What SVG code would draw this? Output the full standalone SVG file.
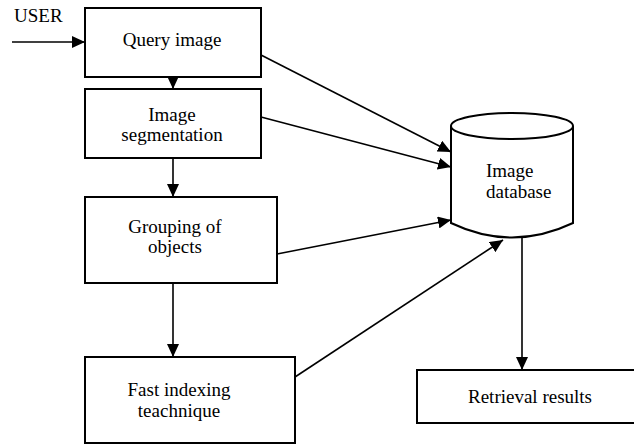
<svg xmlns="http://www.w3.org/2000/svg" width="634" height="445" viewBox="0 0 634 445">
<defs>
<style>
.box{fill:#fff;stroke:#000;stroke-width:2}
text{font-family:'Liberation Serif',serif;font-size:19px;fill:#000}
.c{text-anchor:middle}
.ln{stroke:#000;stroke-width:1.6;fill:none;marker-end:url(#ah)}
</style>
<marker id="ah" markerUnits="userSpaceOnUse" markerWidth="13" markerHeight="12" refX="13" refY="6" orient="auto">
<path d="M0,0 L13,6 L0,12 z" fill="#000"/>
</marker>
</defs>
<rect width="634" height="445" fill="#fff"/>
<g id="connectors">
<line class="ln" x1="12" y1="42" x2="85" y2="42"/>
<line class="ln" x1="173" y1="77" x2="173" y2="89"/>
<line class="ln" x1="173" y1="158" x2="173" y2="197"/>
<line class="ln" x1="173" y1="283" x2="173" y2="357"/>
<line class="ln" x1="261" y1="55" x2="451" y2="152"/>
<line class="ln" x1="261" y1="117" x2="451" y2="167"/>
<line class="ln" x1="277" y1="254" x2="451" y2="220"/>
<line class="ln" x1="295" y1="377" x2="503" y2="240"/>
<line class="ln" x1="522" y1="238" x2="522" y2="370"/>
</g>
<g id="user"><text x="14" y="22">USER</text></g>
<g id="query">
<rect class="box" x="85" y="8" width="176" height="69"/>
<text class="c" x="172" y="46">Query image</text>
</g>
<g id="segmentation">
<rect class="box" x="85" y="89" width="176" height="69"/>
<text class="c" x="172" y="121">Image</text>
<text class="c" x="172" y="141">segmentation</text>
</g>
<g id="grouping">
<rect class="box" x="85" y="197" width="192" height="86"/>
<text class="c" x="175" y="233">Grouping of</text>
<text class="c" x="175" y="253">objects</text>
</g>
<g id="fastindexing">
<rect class="box" x="85" y="357" width="210" height="86"/>
<text class="c" x="179" y="396">Fast indexing</text>
<text class="c" x="179" y="417">teachnique</text>
</g>
<g id="database">
<path d="M451,126 L451,223 Q512,252 573,223 L573,126" fill="#fff" stroke="#000" stroke-width="2"/>
<ellipse cx="512" cy="126" rx="61" ry="13" fill="#fff" stroke="#000" stroke-width="2"/>
<text x="486" y="177">Image</text>
<text x="486" y="198">database</text>
</g>
<g id="retrieval">
<rect class="box" x="417" y="370" width="225" height="53"/>
<text class="c" x="530" y="403">Retrieval results</text>
</g>
</svg>
